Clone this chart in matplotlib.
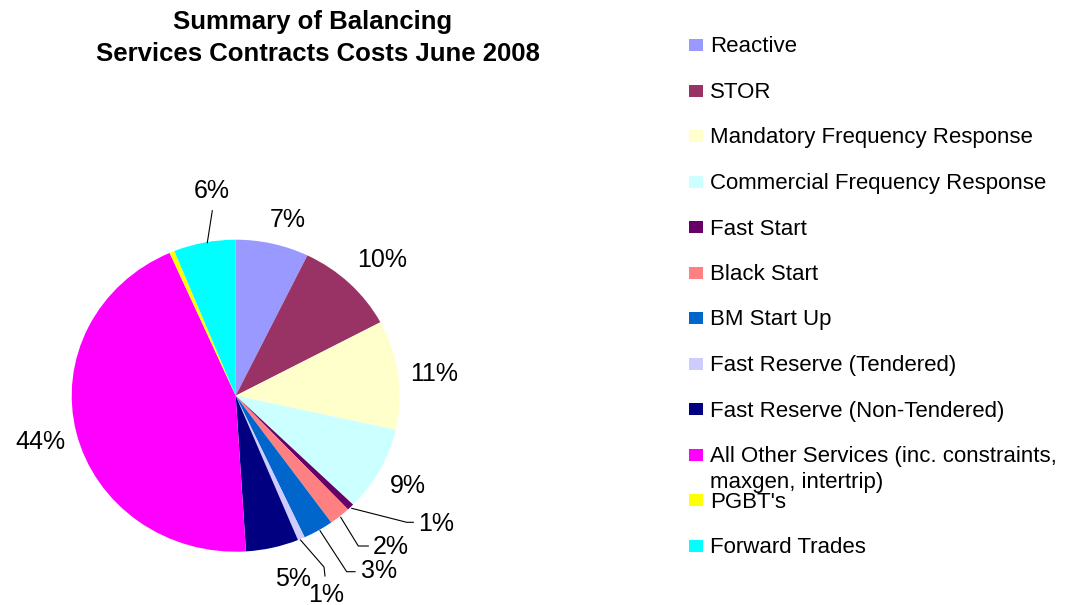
# Pie chart of balancing services contract costs, June 2008.
import matplotlib
matplotlib.use('Agg')
import matplotlib.pyplot as plt
from matplotlib.patches import Rectangle
from matplotlib.lines import Line2D

plt.rcParams['font.family'] = ['Liberation Sans', 'DejaVu Sans']

# Data (share of total cost, %).
services = ['Reactive', 'STOR', 'Mandatory Frequency Response',
            'Commercial Frequency Response', 'Fast Start', 'Black Start',
            'BM Start Up', 'Fast Reserve (Tendered)',
            'Fast Reserve (Non-Tendered)',
            'All Other Services (inc. constraints,\nmaxgen, intertrip)',
            "PGBT's", 'Forward Trades']
shares = [7.2, 10.0, 11.3, 8.8, 0.7, 2.1, 3.0, 0.7, 5.2, 44.4, 0.5, 6.1]
colors = ['#9999FF', '#993366', '#FFFFCC', '#CCFFFF', '#660066', '#FF8080',
          '#0066CC', '#CCCCFF', '#000080', '#FF00FF', '#FFFF00', '#00FFFF']

W, H = 1068, 605


def px(x, y):
    # pixel position (from top-left) to figure fraction
    return x / W, 1 - y / H


def main():
    fig = plt.figure(figsize=(W / 100, H / 100), dpi=100)

    # Pie axes, slightly wider than tall like the original.
    cx, cy, rx, ry = 235.7, 395.7, 164, 156
    ax = fig.add_axes([(cx - rx) / W, 1 - (cy + ry) / H, 2 * rx / W, 2 * ry / H])
    ax.pie(shares, colors=colors, startangle=90, counterclock=False,
           radius=1, wedgeprops={'linewidth': 0})
    ax.set_xlim(-1, 1)
    ax.set_ylim(-1, 1)
    ax.set_aspect('auto')
    ax.axis('off')

    # Title.
    fig.text(*px(313, 29), 'Summary of Balancing', ha='center',
             va='baseline', fontsize=18.5, fontweight='bold')
    fig.text(*px(317.5, 61), 'Services Contracts Costs June 2008',
             ha='center', va='baseline', fontsize=18.5, fontweight='bold')

    # Percentage labels (text centre in pixels), PGBT's has none.
    label_pos = [(288, 218), (382, 258), (434, 372), (407.5, 483.7),
                 (436, 522), (391, 544.7), (379, 569.5), (326, 593),
                 (293, 577), (40, 440), None, (212, 188.7)]
    for share, pos in zip(shares, label_pos):
        if pos is None:
            continue
        fig.text(*px(pos[0], pos[1] + 9), '%d%%' % max(1, round(share)),
                 ha='center', va='baseline', fontsize=18)

    # Leader lines for the small slices.
    leaders = [
        [(351.7, 508.3), (406.7, 522.3), (413.3, 522.3)],
        [(340.7, 517.3), (358.3, 546), (368.3, 546)],
        [(320, 530.7), (346.7, 571.7), (355, 571.7)],
        [(300.5, 540), (324, 567), (325, 576)],
        [(207.3, 242.7), (212.3, 210.7)],
    ]
    for pts in leaders:
        xs = [px(x, y)[0] for x, y in pts]
        ys = [px(x, y)[1] for x, y in pts]
        fig.add_artist(Line2D(xs, ys, color='black', lw=0.8,
                              transform=fig.transFigure))

    # Legend drawn as squares and text on the right.
    for i, (name, col) in enumerate(zip(services, colors)):
        yc = 45 + 45.5 * i
        x0, y0 = px(689, yc + 6)
        fig.add_artist(Rectangle((x0, y0), 14 / W, 12 / H, facecolor=col,
                                 edgecolor='none', transform=fig.transFigure))
        for k, line in enumerate(name.split('\n')):
            fig.text(*px(710, yc + 7.5 + 26 * k), line, ha='left',
                     va='baseline', fontsize=16)

    fig.savefig('out.png', dpi=100)


if __name__ == '__main__':
    main()
